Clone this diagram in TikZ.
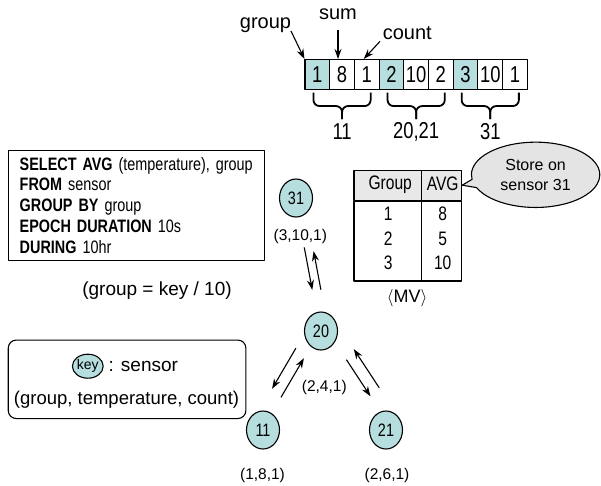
\documentclass[tikz,border=0pt]{standalone}
\usepackage{fontspec}
\setmainfont{Liberation Sans}
\newfontfamily\narrowfont{Liberation Sans}[FakeStretch=0.8]
\usetikzlibrary{calc,positioning,shapes.geometric,shapes.callouts,arrows.meta}
\definecolor{sensorfill}{RGB}{183,222,222}
\definecolor{headgray}{RGB}{232,232,232}
\definecolor{calloutgray}{RGB}{228,228,228}
\tikzset{
  cell/.style={draw, minimum width=24.7, minimum height=30, inner sep=0, font=\narrowfont\fontsize{23}{24}\selectfont},
  sensor/.style={ellipse, draw, fill=sensorfill, minimum width=33, minimum height=38, inner sep=0, font=\narrowfont\fontsize{18}{18}\selectfont},
  tuple/.style={font=\fontsize{15.5}{17}\selectfont},
  toplbl/.style={font=\fontsize{20}{24}\selectfont},
  mvtxt/.style={font=\narrowfont\fontsize{19.5}{20}\selectfont},
  bracepath/.style={line width=1.8, rounded corners=6},
}
\begin{document}
\begin{tikzpicture}[x=1pt, y=-1pt, line width=1.1, line join=round, >={Stealth[length=10pt,width=7pt]}]
\useasboundingbox (0,0) rectangle (601,485);
% stored array: group, sum, count
\foreach \v/\f [count=\i] in {1/sensorfill,8/white,1/white,2/sensorfill,10/white,2/white,3/sensorfill,10/white,1/white}
  \node[cell, fill=\f] (c\i) at ({305+24.7*(\i-0.5)},74.5) {\v};
\foreach \a/\m/\b/\t in {1/2/3/11, 4/5/6/{20,21}, 7/8/9/31} {
  \draw[bracepath] ($(c\a.south west)+(9,2.5)$) |- ($(c\m.south)+(0,16)$) -- ($(c\m.south)+(0,29)$);
  \draw[bracepath] ($(c\b.south east)+(-9,2.5)$) |- ($(c\m.south)+(0,16)$) -- ($(c\m.south)+(0,29)$);
  \node[font=\narrowfont\fontsize{23}{24}\selectfont] (b\m) at ($(c\m.south)+(0,42)$) {\t};
}
\node[toplbl] (grp) at (265.5,25) {group};
\node[toplbl] (sm) at (338,14) {sum};
\node[toplbl] (cnt) at (407.3,33.4) {count};
\draw[->] ($(grp.east)+(-4,6)$) -- (c1.north west);
\draw[->] ($(sm.south)+(0,7)$) -- (sm.south |- c2.north);
\draw[->] ($(cnt.west)+(1,8)$) -- ($(c3.north)+(-3,0)$);
% query
\node[draw, anchor=north west, text width=233, inner xsep=11.5, minimum height=110.7, align=left,
      font=\narrowfont\fontsize{18}{20.9}\selectfont] (qry) at (7.7,149.5)
  {\textbf{SELECT AVG} (temperature), group\\
   \textbf{FROM} sensor\\
   \textbf{GROUP BY} group\\
   \textbf{EPOCH DURATION} 10s\\
   \textbf{DURING} 10hr};
\node[font=\fontsize{19}{22}\selectfont] (grpkey) at (157,291) {(group = key / 10)};
% sensors
\node[sensor] (n31) at (296,198) {31};
\node[sensor] (n20) at (321,331) {20};
\node[sensor] (n11) at (263,430) {11};
\node[sensor] (n21) at (386,430) {21};
\node[tuple] (t31) at (300.3,236.8) {(3,10,1)};
\node[tuple] (t20) at (324.3,387.3) {(2,4,1)};
\node[tuple] (t11) at (262.5,475.6) {(1,8,1)};
\node[tuple] (t21) at (387,475.6) {(2,6,1)};
\draw[->] ($(n31)!0.37!(n20)!1pt!-90:(n20)$) -- ($(n31)!0.69!(n20)!1pt!-90:(n20)$);
\draw[->] ($(n31)!0.70!(n20)!7.5pt!90:(n20)$) -- ($(n31)!0.41!(n20)!7.5pt!90:(n20)$);
\draw[->] ($(n20)!0.24!(n11)!13pt!-90:(n11)$) -- ($(n20)!0.65!(n11)!13pt!-90:(n11)$);
\draw[->] ($(n20)!0.675!(n11)!1pt!-90:(n11)$) -- ($(n20)!0.28!(n11)!1pt!-90:(n11)$);
\draw[->] ($(n20)!0.32!(n21)!5.5pt!90:(n21)$) -- ($(n20)!0.69!(n21)!5.5pt!90:(n21)$);
\draw[->] ($(n20)!0.67!(n21)!17.5pt!90:(n21)$) -- ($(n20)!0.28!(n21)!17.5pt!90:(n21)$);
% legend
\node[draw, rounded corners=8, anchor=north west, minimum width=237.6, minimum height=78.5] (legend) at (7.7,339.5) {};
\node[ellipse, draw, fill=sensorfill, minimum width=30, minimum height=24, inner sep=0,
      font=\fontsize{14}{14}\selectfont] (keyn) at (87.8,366.2) {key};
\node[right=1pt of keyn, font=\fontsize{19}{20}\selectfont] (keytxt) {: sensor};
\node[font=\fontsize{18.5}{20}\selectfont] (fields) at (126.5,399.7) {(group, temperature, count)};
% MV table
\node[draw, fill=headgray, anchor=north west, minimum width=107.7, minimum height=30.1, inner sep=0] (mvhead) at (353.4,169.6) {};
\node[draw, anchor=north west, minimum width=107.7, minimum height=79.6, inner sep=0] (mvbody) at (mvhead.south west) {};
\draw ($(mvhead.north west)!0.623!(mvhead.north east)$) -- ($(mvbody.south west)!0.623!(mvbody.south east)$);
\node[mvtxt] (hgrp) at (390.2,184.5) {Group};
\node[mvtxt] (havg) at (442.7,183.5) {AVG};
\foreach \g/\v [count=\r] in {1/8,2/5,3/10} {
  \node[mvtxt] (g\r) at (388.3,{214+24.6*(\r-1)}) {\g};
  \node[mvtxt] (a\r) at (442.7,{214+24.6*(\r-1)}) {\v};
}
\node[font=\fontsize{18}{20}\selectfont] (mvname) at (407,297.7) {$\langle$MV$\rangle$};
\node[ellipse callout, draw, fill=calloutgray, minimum width=128.4, minimum height=65.3, inner sep=0,
      callout absolute pointer={(mvhead.east)}, align=center, font=\fontsize{16}{20}\selectfont] (store) at (535.6,174.8) {Store on\\sensor 31};
\end{tikzpicture}
\end{document}
